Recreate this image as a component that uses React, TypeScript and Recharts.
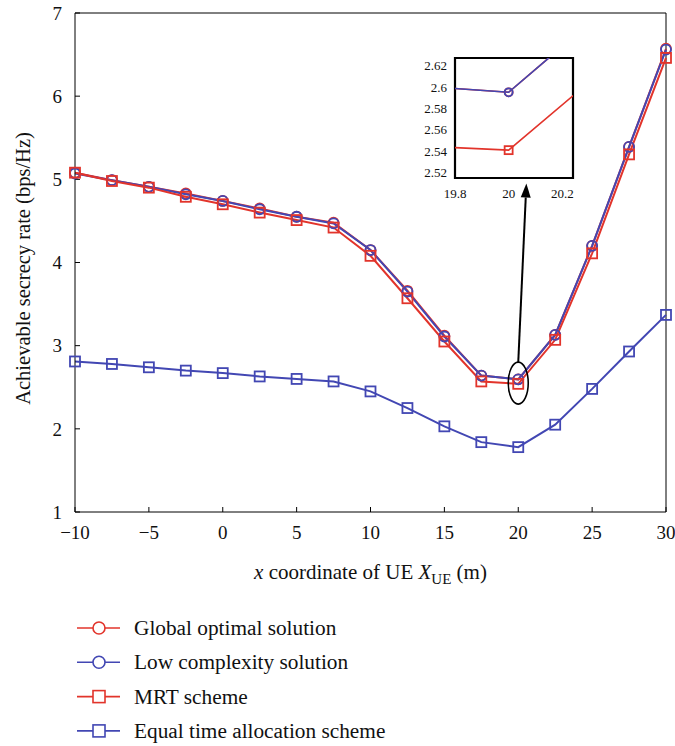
import { LineChart, Line, XAxis, YAxis, ReferenceLine, ReferenceDot, ReferenceArea, Label } from 'recharts';

// x coordinate of UE (m)
const xCoords = [-10, -7.5, -5, -2.5, 0, 2.5, 5, 7.5, 10, 12.5, 15, 17.5, 20, 22.5, 25, 27.5, 30];
// achievable secrecy rate (bps/Hz)
const globalOptimal = [5.08, 4.99, 4.91, 4.83, 4.74, 4.65, 4.55, 4.48, 4.15, 3.66, 3.12, 2.64, 2.595, 3.13, 4.2, 5.39, 6.57];
const lowComplexity = [5.07, 4.99, 4.91, 4.82, 4.74, 4.64, 4.55, 4.47, 4.15, 3.65, 3.11, 2.64, 2.595, 3.13, 4.2, 5.39, 6.56];
const mrtScheme = [5.08, 4.98, 4.9, 4.79, 4.7, 4.6, 4.51, 4.42, 4.08, 3.57, 3.05, 2.57, 2.541, 3.07, 4.11, 5.3, 6.46];
const equalTime = [2.81, 2.78, 2.74, 2.7, 2.67, 2.63, 2.6, 2.57, 2.45, 2.25, 2.03, 1.84, 1.78, 2.05, 2.48, 2.93, 3.37];

const xTicks = [-10, -5, 0, 5, 10, 15, 20, 25, 30];
const yTicks = [1, 2, 3, 4, 5, 6, 7];
const insetXTicks = [19.8, 20, 20.2];
const insetYTicks = [2.52, 2.54, 2.56, 2.58, 2.6, 2.62];

const RED = '#e2342b';
const BLUE = '#4247b3';
const FONT = '"Liberation Serif", "DejaVu Serif", serif';

const series = [
  { key: 'global', name: 'Global optimal solution', color: RED, marker: 'circle' },
  { key: 'low', name: 'Low complexity solution', color: BLUE, marker: 'circle' },
  { key: 'mrt', name: 'MRT scheme', color: RED, marker: 'square' },
  { key: 'equal', name: 'Equal time allocation scheme', color: BLUE, marker: 'square' },
];

const data = xCoords.map((x, i) => ({
  x,
  global: globalOptimal[i],
  low: lowComplexity[i],
  mrt: mrtScheme[i],
  equal: equalTime[i],
}));

const fmtTick = (v: number) => (v < 0 ? `\u2212${-v}` : `${v}`);

function makeDot(marker: string, color: string, size: number) {
  return (props: any) => {
    const { cx, cy, key } = props;
    if (cx == null || cy == null) return <g key={key} />;
    if (marker === 'circle') {
      return <circle key={key} cx={cx} cy={cy} r={size / 2} fill="none" stroke={color} strokeWidth={1.8} />;
    }
    return (
      <rect key={key} x={cx - size / 2} y={cy - size / 2} width={size} height={size}
        fill="none" stroke={color} strokeWidth={1.8} />
    );
  };
}

const XTitle = (props: any) => {
  const { x, y, width } = props.viewBox;
  return (
    <text x={x + width / 2} y={y + 67} textAnchor="middle" fontFamily={FONT} fontSize={21} fill="#111">
      <tspan fontStyle="italic">x</tspan>
      <tspan> coordinate of UE </tspan>
      <tspan fontStyle="italic">X</tspan>
      <tspan dy={5} fontSize={15}>UE</tspan>
      <tspan dy={-5}> (m)</tspan>
    </text>
  );
};

const YTitle = (props: any) => {
  const { y, height } = props.viewBox;
  const cy = y + height / 2 + 6;
  return (
    <text x={30} y={cy} textAnchor="middle" fontFamily={FONT} fontSize={20.5} fill="#111"
      transform={`rotate(-90, 30, ${cy})`}>
      Achievable secrecy rate (bps/Hz)
    </text>
  );
};

const Ellipse = (props: any) => (
  <ellipse cx={props.cx} cy={props.cy} rx={10} ry={21} fill="none" stroke="#000" strokeWidth={1.6} />
);

const Arrow = (props: any) => {
  const { x1, y1, x2, y2 } = props;
  const ang = Math.atan2(y2 - y1, x2 - x1);
  const len = 14;
  const half = 5;
  const bx = x2 - len * Math.cos(ang);
  const by = y2 - len * Math.sin(ang);
  const px = -Math.sin(ang) * half;
  const py = Math.cos(ang) * half;
  return (
    <g>
      <line x1={x1} y1={y1} x2={bx} y2={by} stroke="#000" strokeWidth={2} />
      <polygon points={`${x2},${y2} ${bx + px},${by + py} ${bx - px},${by - py}`} fill="#000" />
    </g>
  );
};

function Legend() {
  return (
    <svg width={675} height={146} style={{ position: 'absolute', left: 0, top: 600 }}>
      {series.map((s, i) => {
        const cy = 28 + i * 34.3;
        return (
          <g key={s.key}>
            <line x1={77} x2={120} y1={cy} y2={cy} stroke={s.color} strokeWidth={1.6} />
            {s.marker === 'circle'
              ? <circle cx={99} cy={cy} r={6} fill="#fff" stroke={s.color} strokeWidth={1.6} />
              : <rect x={93} y={cy - 6} width={12} height={12} fill="#fff" stroke={s.color} strokeWidth={1.6} />}
            <text x={134} y={cy + 7} fontFamily={FONT} fontSize={21.3} fill="#111">{s.name}</text>
          </g>
        );
      })}
    </svg>
  );
}

export default function App() {
  return (
    <div style={{ position: 'absolute', left: 0, top: 0, width: 675, height: 746, background: '#fff', fontFamily: FONT }}>
      <LineChart width={675} height={600} data={data} margin={{ top: 13, right: 9, left: 0, bottom: 0 }}>
        <XAxis dataKey="x" type="number" domain={[-10, 30]} ticks={xTicks} interval={0}
          tickFormatter={fmtTick} tickSize={-5} tickMargin={19} height={88}
          stroke="#000" tick={{ fill: '#111', fontSize: 19, fontFamily: FONT }}>
          <Label content={XTitle} />
        </XAxis>
        <YAxis type="number" domain={[1, 7]} ticks={yTicks} interval={0} tickSize={-5} tickMargin={18}
          width={75} stroke="#000" tick={{ fill: '#111', fontSize: 19, fontFamily: FONT }}>
          <Label content={YTitle} />
        </YAxis>
        <ReferenceLine y={7} stroke="#000" />
        <ReferenceLine x={30} stroke="#000" />
        {series.map((s) => (
          <Line key={s.key} dataKey={s.key} name={s.name} stroke={s.color} strokeWidth={2}
            dot={makeDot(s.marker, s.color, 10)} activeDot={false}
            isAnimationActive={false} />
        ))}
        <ReferenceDot x={20} y={2.55} shape={Ellipse} />
        <ReferenceLine segment={[{ x: 20, y: 2.8 }, { x: 20.55, y: 4.95 }]} shape={Arrow} />
      </LineChart>

      <div style={{ position: 'absolute', left: 405, top: 45 }}>
        <LineChart width={175} height={165} data={data} margin={{ top: 13, right: 7, left: 0, bottom: 0 }}>
          <ReferenceArea x1={19.8} x2={20.24} y1={2.515} y2={2.627} fill="#fff" fillOpacity={1}
            stroke="#000" strokeWidth={2.2} ifOverflow="visible" />
          <XAxis dataKey="x" type="number" domain={[19.8, 20.24]} allowDataOverflow ticks={insetXTicks}
            interval={0} tickLine={false} axisLine={false} tickSize={0} tickMargin={11} height={32}
            tick={{ fill: '#111', fontSize: 13, fontFamily: FONT }} />
          <YAxis type="number" domain={[2.515, 2.627]} allowDataOverflow ticks={insetYTicks}
            interval={0} tickLine={false} axisLine={false} tickSize={0} tickMargin={8} width={50}
            tickFormatter={(v: number) => String(Number(v.toFixed(2)))}
            tick={{ fill: '#111', fontSize: 13, fontFamily: FONT }} />
          {series.slice(0, 3).map((s) => (
            <Line key={s.key} dataKey={s.key} stroke={s.color} strokeWidth={1.6}
              dot={makeDot(s.marker, s.color, 8)} activeDot={false} isAnimationActive={false} />
          ))}
        </LineChart>
      </div>

      <Legend />
    </div>
  );
}
